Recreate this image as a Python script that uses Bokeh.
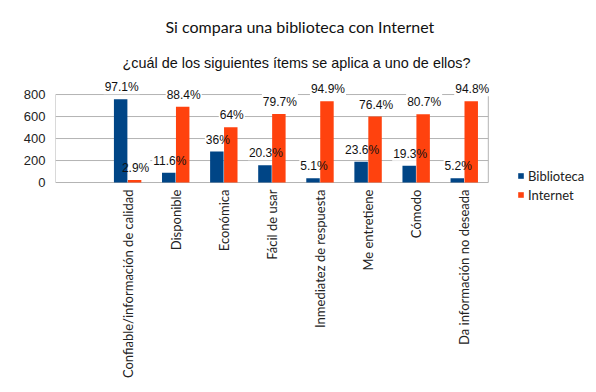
from bokeh.plotting import figure
from bokeh.models import ColumnDataSource, Range1d, Legend, LegendItem, Title, FixedTicker
from bokeh.core.properties import value
from bokeh.embed import file_html
from bokeh.resources import INLINE
import math

categories = [" ", "Confiable/información de calidad", "Disponible", "Económica", "Fácil de usar",
              "Inmediatez de respuesta", "Me entretiene", "Cómodo", "Da información no deseada"]
biblioteca = [None, 757, 90, 282, 158, 38, 188, 152, 38]
internet = [None, 23, 690, 502, 622, 740, 600, 621, 740]
pct_biblioteca = ["", "97.1%", "11.6%", "36%", "20.3%", "5.1%", "23.6%", "19.3%", "5.2%"]
pct_internet = ["", "2.9%", "88.4%", "64%", "79.7%", "94.9%", "76.4%", "80.7%", "94.8%"]
yticks = [0, 200, 400, 600, 800]

BLUE = "#004586"
ORANGE = "#ff420e"
GRID = "#b3b3b3"
TXT = "#222222"

n = len(categories)
centers = [k + 0.5 for k in range(n)]
half = 0.145
src = ColumnDataSource(dict(
    c=centers[1:], xb=[c - half for c in centers[1:]], xi=[c + half for c in centers[1:]],
    cat=categories[1:], b=biblioteca[1:], i=internet[1:],
    pb=pct_biblioteca[1:], pi=pct_internet[1:],
))

# frame spans most of the canvas so that labels / legend are not clipped
p = figure(width=596, height=392, x_range=Range1d(0, 11.25), y_range=Range1d(-1909, 964),
           output_backend="svg", toolbar_location=None,
           min_border_left=55, min_border_right=0, min_border_top=76, min_border_bottom=0)
p.outline_line_color = None
p.grid.visible = False
p.xaxis.visible = False

p.yaxis.ticker = FixedTicker(ticks=yticks)
p.yaxis.axis_line_color = None
p.yaxis.major_tick_line_color = None
p.yaxis.minor_tick_line_color = None
p.yaxis.major_label_text_font = "Liberation Sans"
p.yaxis.major_label_text_font_size = "13px"
p.yaxis.major_label_text_color = TXT
p.yaxis.major_label_standoff = 4

# plot-area grid and border
top = max(yticks)
p.segment(x0=[0] * len(yticks), x1=[n] * len(yticks), y0=yticks, y1=yticks, line_color=GRID, line_width=1)
p.segment(x0=[0, n], x1=[0, n], y0=[0, 0], y1=[top, top], line_color=GRID, line_width=1)

# white boxes behind labels (hide gridlines), drawn before bars
for x, col, val in (("xb", "pb", "b"), ("xi", "pi", "i")):
    p.text(x=x, y=val, text=col, source=src, text_align="center", text_baseline="bottom",
           y_offset=-5, x_offset=1, text_font=value("Liberation Sans"), text_font_size="12px",
           text_alpha=0, background_fill_color="white", padding=1)

rb = p.vbar(x="xb", top="b", width=0.28, source=src, fill_color=BLUE, line_color=None)
ri = p.vbar(x="xi", top="i", width=0.28, source=src, fill_color=ORANGE, line_color=None)

for x, col, val in (("xb", "pb", "b"), ("xi", "pi", "i")):
    p.text(x=x, y=val, text=col, source=src, text_align="center", text_baseline="bottom",
           y_offset=-5, x_offset=1, text_font=value("Liberation Sans"), text_font_size="12px",
           text_color="#111111")

# category labels (rotated, reading upward, top-anchored under the axis)
p.text(x="c", y=0, text="cat", source=src, angle=math.pi / 2, text_align="right",
       text_baseline="middle", y_offset=7, text_font=value("Lato"), text_font_size="13px",
       text_color=TXT)

p.add_layout(Title(text="¿cuál de los siguientes ítems se aplica a uno de ellos?", align="left",
                   offset=67, text_font="Liberation Sans", text_font_size="14.4px",
                   text_font_style="normal", text_color="#111111", standoff=11), "above")
p.add_layout(Title(text="Si compara una biblioteca con Internet", align="left",
                   offset=110, text_font="Lato", text_font_size="16px",
                   text_font_style="normal", text_color="#111111", standoff=24), "above")

legend = Legend(items=[LegendItem(label="Biblioteca", renderers=[rb]),
                       LegendItem(label="Internet", renderers=[ri])],
                location=(462, 188))
legend.glyph_width = 7
legend.glyph_height = 7
legend.label_height = 19
legend.label_standoff = 4
legend.spacing = 0
legend.padding = 0
legend.margin = 0
legend.border_line_color = None
legend.background_fill_alpha = 0
legend.label_text_font = "Lato"
legend.label_text_font_size = "13px"
legend.label_text_color = TXT
p.add_layout(legend, "center")

open("out.html", "w").write(file_html(p, INLINE))
